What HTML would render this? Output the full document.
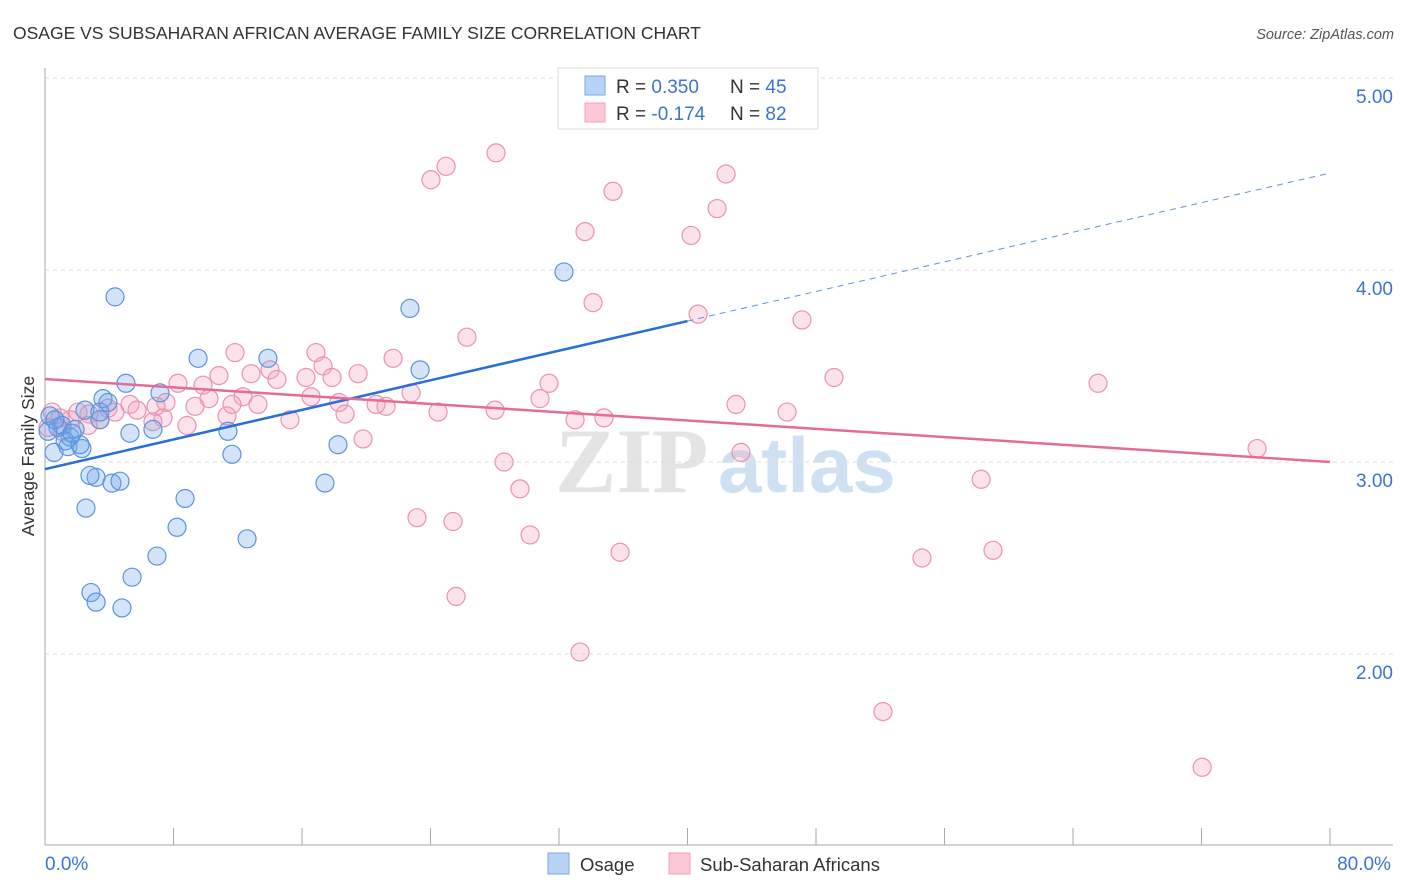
<!DOCTYPE html>
<html><head><meta charset="utf-8"><style>
body{margin:0;background:#fff;font-family:"Liberation Sans",sans-serif;}
svg{display:block}
</style></head><body>
<svg id="chart" width="1406" height="892" viewBox="0 0 1406 892" xmlns="http://www.w3.org/2000/svg">
<text x="13" y="39" font-size="17.5" fill="#333">OSAGE VS SUBSAHARAN AFRICAN AVERAGE FAMILY SIZE CORRELATION CHART</text>
<text x="1394" y="39" font-size="14.5" fill="#555" text-anchor="end" font-style="italic">Source: ZipAtlas.com</text>
<g>
<text x="555" y="492" font-size="92" font-family="Liberation Serif,serif" fill="#e4e4e4" font-weight="bold">ZIP</text>
<text x="718" y="492" font-size="78" fill="#cfe0f3" font-weight="bold">atlas</text>
</g>
<g id="grid"></g>
<g id="axes"></g>
<g id="marks"></g>
<text transform="translate(34,456) rotate(-90)" font-size="17.5" fill="#333" text-anchor="middle">Average Family Size</text>
<g>
<rect x="558" y="68" width="260" height="61" fill="#fff" stroke="#ddd"/>
<rect x="585" y="76" width="20" height="19" fill="#b8d3f5" stroke="#7aa8e6"/>
<rect x="585" y="103" width="20" height="19" fill="#fcc8d6" stroke="#f0a0b8"/>
<text x="616" y="93" font-size="19" fill="#333">R = <tspan fill="#3a75d0">0.350</tspan></text>
<text x="730" y="93" font-size="19" fill="#333">N = <tspan fill="#3a75d0">45</tspan></text>
<text x="616" y="120" font-size="19" fill="#333">R = <tspan fill="#3a75d0">-0.174</tspan></text>
<text x="730" y="120" font-size="19" fill="#333">N = <tspan fill="#3a75d0">82</tspan></text>
</g>
<g>
<rect x="548" y="853" width="21" height="21" fill="#b8d3f5" stroke="#7aa8e6"/>
<text x="580" y="871" font-size="18.5" fill="#333">Osage</text>
<rect x="669" y="853" width="21" height="21" fill="#fcc8d6" stroke="#f0a0b8"/>
<text x="700" y="871" font-size="18.5" fill="#333">Sub-Saharan Africans</text>
</g>
</svg>
<script>
const osageX=[4.36,5.04,7.16,9.53,13.88,22.72,23.35,32.31,3.61,3.92,3.42,5.29,6.72,11.39,18.24,11.64,0.56,1.43,2.30,3.18,4.17,4.67,2.55,8.72,17.43,8.22,6.97,12.58,5.42,2.86,3.18,4.79,0.31,0.81,1.06,1.56,1.87,0.19,0.62,1.25,2.49,3.42,2.18,1.68,2.80];
const osageY=[3.86,3.41,3.36,3.54,3.54,3.80,3.48,3.99,3.33,3.31,3.22,3.15,3.17,3.16,3.09,3.04,3.05,3.08,3.07,2.92,2.89,2.90,2.76,2.81,2.89,2.66,2.51,2.60,2.40,2.32,2.27,2.24,3.24,3.18,3.19,3.13,3.17,3.16,3.22,3.11,3.27,3.26,3.09,3.15,2.93];
const ssaX=[28.08,24.97,24.03,42.40,35.36,41.84,33.62,40.22,34.12,40.66,47.13,26.27,11.83,16.87,21.67,17.31,14.01,19.49,10.83,12.83,16.25,17.87,49.12,65.56,31.38,8.28,9.84,14.44,22.79,30.82,12.33,16.56,18.30,18.68,20.61,21.23,10.21,7.53,5.29,6.91,5.73,9.34,11.64,13.26,4.36,3.92,2.74,43.02,75.46,28.02,24.47,33.00,34.80,46.20,11.33,15.25,7.35,8.84,6.72,3.42,2.68,1.56,2.05,0.93,0.44,0.19,1.06,19.80,43.33,28.58,58.28,29.57,23.16,25.40,30.20,35.80,54.60,59.02,25.59,33.31,52.17,72.04];
const ssaY=[4.61,4.54,4.47,4.50,4.41,4.32,4.20,4.18,3.83,3.77,3.74,3.65,3.57,3.57,3.54,3.50,3.48,3.46,3.45,3.46,3.44,3.44,3.44,3.41,3.41,3.41,3.40,3.43,3.36,3.33,3.34,3.34,3.31,3.25,3.30,3.29,3.33,3.31,3.30,3.29,3.27,3.29,3.30,3.30,3.26,3.28,3.25,3.30,3.07,3.27,3.26,3.22,3.23,3.26,3.24,3.22,3.23,3.19,3.21,3.22,3.19,3.22,3.26,3.23,3.26,3.18,3.16,3.12,3.05,3.00,2.91,2.86,2.71,2.69,2.62,2.53,2.50,2.54,2.30,2.01,1.70,1.41];
const osageTrend=[2.963,4.505]; // y at x=0 and x=80
const ssaTrend=[3.432,3.00];
const yTicks=[2,3,4,5];
const yTickLabels=["2.00","3.00","4.00","5.00"];
const xTicks=[0,8,16,24,32,40,48,56,64,72,80];
const xEndLabels=["0.0%","80.0%"];

const NS="http://www.w3.org/2000/svg";
const X0=45,X1=1330,PB=845;
const sx=v=>X0+(v/80)*(X1-X0);
const sy=v=>78+(5-v)*192;
function mk(tag,attrs,parent){const e=document.createElementNS(NS,tag);for(const k in attrs)e.setAttribute(k,attrs[k]);parent.appendChild(e);return e;}
const grid=document.getElementById('grid'),axes=document.getElementById('axes'),marks=document.getElementById('marks');
yTicks.forEach((t,i)=>{
  const l=mk('line',{x1:X0,x2:1393,y1:sy(t),y2:sy(t),stroke:'#ddd','stroke-dasharray':'4,4'},grid);
  
  
  const tx=mk('text',{x:1393,y:sy(t)+25,'font-size':19,fill:'#3a75d0','text-anchor':'end'},axes);
  tx.textContent=yTickLabels[i];
  
  
});
const ya=mk('line',{x1:X0,x2:X0,y1:68,y2:PB,stroke:'#aaa'},axes);


const xa=mk('line',{x1:X0,x2:1393,y1:PB,y2:PB,stroke:'#aaa'},axes);


xTicks.forEach(t=>{
  const l=mk('line',{x1:sx(t),x2:sx(t),y1:PB,y2:PB-17,stroke:'#aaa'},axes);
  
  
});
[[0,'start',xEndLabels[0]],[80,'middle',xEndLabels[1]]].forEach(([v,a,s],i)=>{
  const tx=mk('text',{x:i?1364:X0,y:870,'font-size':19,fill:'#3a75d0','text-anchor':a},axes);
  tx.textContent=s;
  
  
});
function dots(xs,ys,fill,stroke,name){
  xs.forEach((x,i)=>{
    const c=mk('circle',{cx:sx(x),cy:sy(ys[i]),r:9,fill:fill,stroke:stroke,'stroke-width':1.2},marks);
    
    
  });
}
dots(ssaX,ssaY,'rgba(244,160,188,0.3)','#eb92b0','ssa-point');
dots(osageX,osageY,'rgba(110,165,232,0.3)','#5b93e0','osage-point');
const ty=(tr,x)=>tr[0]+(tr[1]-tr[0])*x/80;
const b1=mk('line',{x1:sx(0),y1:sy(ty(osageTrend,0)),x2:sx(40),y2:sy(ty(osageTrend,40)),stroke:'#2a6fd6','stroke-width':2.5},marks);


const b2=mk('line',{x1:sx(40),y1:sy(ty(osageTrend,40)),x2:sx(80),y2:sy(ty(osageTrend,80)),stroke:'#5b93e0','stroke-width':1,'stroke-dasharray':'6,5'},marks);


const p1=mk('line',{x1:sx(0),y1:sy(ty(ssaTrend,0)),x2:sx(80),y2:sy(ty(ssaTrend,80)),stroke:'#e46c98','stroke-width':2.5},marks);


</script>
</body></html>
